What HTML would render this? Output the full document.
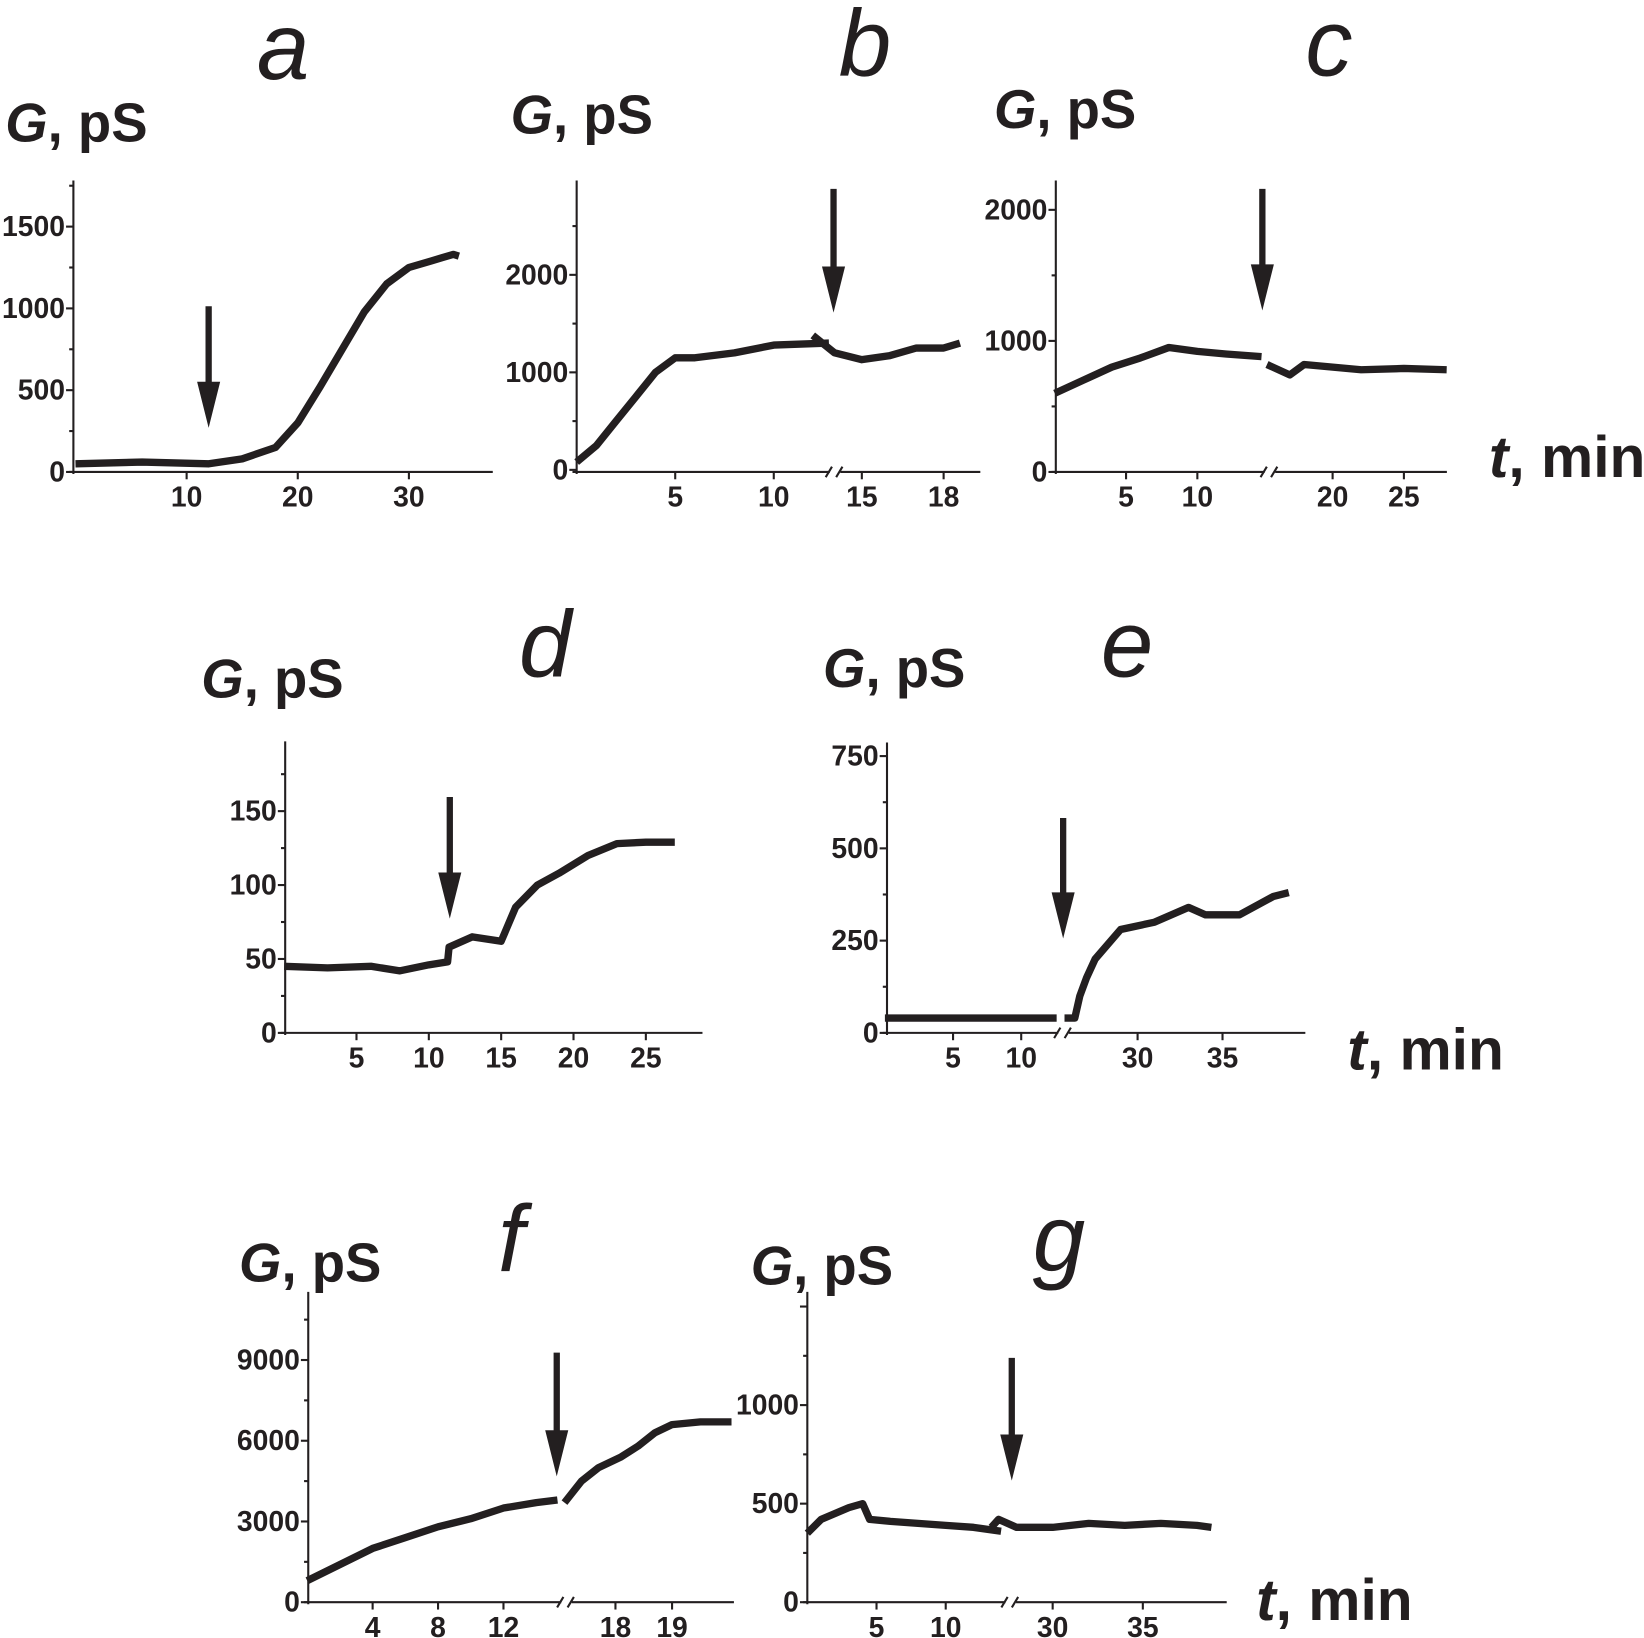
<!DOCTYPE html>
<html><head><meta charset="utf-8"><style>
html,body{margin:0;padding:0;background:#fff;}
svg{display:block;font-family:"Liberation Sans",Arial,sans-serif;}
</style></head><body>
<svg id="fig" width="1644" height="1638" viewBox="0 0 1568 1562" xmlns="http://www.w3.org/2000/svg"></svg>
<script>
// ---- data (time in min, conductance in pS) ----
const aT=[0,3,6,9,12,15,18,20,22,24,26,28,30,32,33,34,34.5];
const aG=[50,55,60,55,50,80,150,300,520,750,980,1150,1250,1290,1310,1330,1320];
const bT=[0,1,2,3,4,5,6,8,10,12.8,13.2,14,15,16,17,18,18.6];
const bG=[80,250,500,750,1000,1150,1150,1200,1280,1300,1380,1200,1130,1170,1250,1250,1300];
const cT=[0,2,4,6,8,10,12,14.5,15.4,17,18,20,22,25,28];
const cG=[600,700,800,870,950,920,900,880,820,740,820,800,780,790,780];
const dT=[0,3,6,8,10,11.3,11.4,13,15,16,17.5,19,21,23,25,27];
const dG=[45,44,45,42,46,48,58,65,62,85,100,108,120,128,129,129];
const eT=[0,5,10,12.6,25.7,26.3,26.6,27,27.5,29,31,33,34,36,38,38.9];
const eG=[40,40,40,40,40,40,100,150,200,280,300,340,320,320,370,380];
const fT=[0,2,4,6,8,10,12,14,15.3,17.1,17.4,17.7,18.1,18.4,18.7,19,19.5,20.05];
const fG=[800,1400,2000,2400,2800,3100,3500,3700,3800,3700,4500,5000,5400,5800,6300,6600,6700,6700];
const gT=[0,1,2,3,4,4.5,6,8,10,12,14,26.6,27,28,30,32,34,36,38,38.8];
const gG=[350,420,450,480,500,420,410,400,390,380,360,380,420,380,380,400,390,400,390,380];
// tick labels
const aYT=[0,500,1000,1500], aXT=[10,20,30];
const bYT=[0,1000,2000], bXT=[5,10,15,18];
const cYT=[0,1000,2000], cXT=[5,10,20,25];
const dYT=[0,50,100,150], dXT=[5,10,15,20,25];
const eYT=[0,250,500,750], eXT=[5,10,30,35];
const fYT=[0,3000,6000,9000], fXT=[4,8,12,18,19];
const gYT=[0,500,1000], gXT=[5,10,30,35];

const NS="http://www.w3.org/2000/svg";
const svg=document.getElementById('fig');
function mk(tag,at,parent){const e=document.createElementNS(NS,tag);for(const k in at)e.setAttribute(k,at[k]);(parent||svg).appendChild(e);return e;}

// layout config (pixel geometry only)
const panels=[
 {id:'a',T:aT,G:aG,YT:aYT,XT:aXT,ax:70,top:172,bot:450,right:470,y0:450,ypx:78/500,x0:72,xs:10.6,brk:null,arrow:[199,292,408],gl:[5,135],let:[245,75]},
 {id:'b',T:bT,G:bG,YT:bYT,XT:bXT,ax:550,top:172,bot:450,right:935,y0:448,ypx:93/1000,x0:550,xs:18.8,brk:12.9,x2:822,t2:15,xs2:26,arrow:[795,180,298],gl:[487,127],let:[800,72]},
 {id:'c',T:cT,G:cG,YT:cYT,XT:cXT,ax:1007,top:172,bot:450,right:1380,y0:450,ypx:125/1000,x0:1006,xs:13.6,brk:14.8,x2:1271,t2:20,xs2:13.6,arrow:[1204,180,296],gl:[948,122],let:[1245,72]},
 {id:'d',T:dT,G:dG,YT:dYT,XT:dXT,ax:272,top:707,bot:985,right:670,y0:985,ypx:70.5/50,x0:271,xs:13.8,brk:null,arrow:[429,760,876],gl:[192,665],let:[495,645]},
 {id:'e',T:eT,G:eG,YT:eYT,XT:eXT,ax:846,top:708,bot:985,right:1245,y0:985,ypx:88/250,x0:844,xs:13,brk:12.8,x2:1085,t2:30,xs2:16.2,arrow:[1014,780,895],gl:[785,655],let:[1050,645]},
 {id:'f',T:fT,G:fG,YT:fYT,XT:fXT,ax:294,top:1232,bot:1528,right:700,y0:1528,ypx:77/3000,x0:293,xs:15.6,brk:15.6,x2:587,t2:18,xs2:54,arrow:[531,1290,1408],gl:[228,1222],let:[475,1212]},
 {id:'g',T:gT,G:gG,YT:gYT,XT:gXT,ax:770,top:1232,bot:1528,right:1170,y0:1528,ypx:94/500,x0:770,xs:13.2,brk:14.4,x2:1004,t2:30,xs2:17.2,arrow:[965,1295,1412],gl:[716,1225],let:[985,1212]}
];

panels.forEach(p=>{
  const g=mk('g',{});
  
  
  const X=t=>(p.brk===null||t<=p.brk)?p.x0+t*p.xs:p.x2+(t-p.t2)*p.xs2;
  const Y=v=>p.y0-v*p.ypx;
  const ya=mk('line',{x1:p.ax,y1:p.top,x2:p.ax,y2:p.bot+2,stroke:'#231f20','stroke-width':2},g);
  
  
  let xa;
  if(p.brk===null){
    xa=mk('line',{x1:p.ax-4,y1:p.bot,x2:p.right,y2:p.bot,stroke:'#231f20','stroke-width':2},g);
  } else {
    const bx=X(p.brk)+4;
    xa=mk('path',{d:`M${p.ax-4},${p.bot}H${bx-5}M${bx+5},${p.bot}H${p.right}M${bx-9},${p.bot+5}L${bx-3},${p.bot-5}M${bx+1},${p.bot+5}L${bx+7},${p.bot-5}`,stroke:'#231f20','stroke-width':2,fill:'none'},g);
  }
  
  
  const step=p.YT[1]-p.YT[0];
  for(let v=0;Y(v)>=p.top;v+=step/2){
    const yy=Y(v);const major=(Math.round(v/step*2)%2===0);
    mk('line',{x1:p.ax-(major?7:4),y1:yy,x2:p.ax,y2:yy,stroke:'#231f20','stroke-width':2},g);
  }
  p.YT.forEach(v=>{
    const t=mk('text',{x:p.ax-8,y:Y(v)+9,'text-anchor':'end','font-size':27,'font-weight':'bold',fill:'#231f20'},g);
    t.textContent=v;
    
    
  });
  p.XT.forEach(v=>{
    const xx=X(v);
    mk('line',{x1:xx,y1:p.bot,x2:xx,y2:p.bot+7,stroke:'#231f20','stroke-width':2},g);
    const t=mk('text',{x:xx,y:p.bot+33,'text-anchor':'middle','font-size':27,'font-weight':'bold',fill:'#231f20'},g);
    t.textContent=v;
    
    
  });
  let segs=[[]];
  p.T.forEach((t,i)=>{
    if(p.brk!==null&&i>0&&p.T[i-1]<=p.brk&&t>p.brk)segs.push([]);
    segs[segs.length-1].push(X(t).toFixed(1)+','+Y(p.G[i]).toFixed(1));
  });
  segs.forEach(s=>{
    const l=mk('polyline',{points:s.join(' '),fill:'none',stroke:'#231f20','stroke-width':7,'stroke-linejoin':'round'},g);
    
    
  });
  const [ax,a1,a2]=p.arrow;
  const ar=mk('path',{d:`M${ax-3},${a1}H${ax+3}V${a2-44}H${ax+11}L${ax},${a2}L${ax-11},${a2-44}H${ax-3}Z`,fill:'#231f20'},g);
  
  
  const yl=mk('text',{x:p.gl[0],y:p.gl[1],'font-size':52,'font-weight':'bold',fill:'#231f20'},g);
  yl.innerHTML='<tspan font-style="italic">G</tspan>, pS';
  
  
  const lt=mk('text',{x:p.let[0],y:p.let[1],'font-size':90,'font-style':'italic',fill:'#231f20'},g);
  lt.textContent=p.id;
  
  
});
[[1420,455],[1285,1020],[1198,1545]].forEach(([x,y])=>{
  const t=mk('text',{x:x,y:y,'font-size':56,'font-weight':'bold',fill:'#231f20'});
  t.innerHTML='<tspan font-style="italic">t</tspan>, min';
  
  
});
</script>
</body></html>
